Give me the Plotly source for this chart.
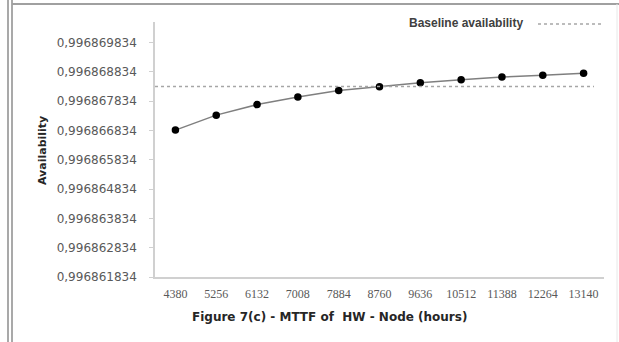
import plotly.graph_objects as go

# ---- data ----
mttf_hours = ["4380", "5256", "6132", "7008", "7884", "8760", "9636", "10512", "11388", "12264", "13140"]
availability = [0.99686685, 0.99686736, 0.99686772, 0.99686798, 0.99686820, 0.99686833,
                0.99686847, 0.99686857, 0.99686866, 0.99686872, 0.99686879]
baseline_availability = 0.99686834
baseline_name = "Baseline availability"
y_tick_values = [0.996861834, 0.996862834, 0.996863834, 0.996864834, 0.996865834,
                 0.996866834, 0.996867834, 0.996868834, 0.996869834]
y_tick_labels = ["0,996861834", "0,996862834", "0,996863834", "0,996864834", "0,996865834",
                 "0,996866834", "0,996867834", "0,996868834", "0,996869834"]
x_title = "Figure 7(c) - MTTF of  HW - Node (hours)"
y_title = "Availability"

W, H = 619, 342
L, R, T, B = 155, 15, 22, 65
PW, PH = W - L - R, H - T - B


def px(x):
    return (x - L) / PW


def py(y):
    return 1 - (y - T) / PH


x_idx = list(range(len(mttf_hours)))

fig = go.Figure()
fig.add_trace(go.Scatter(
    x=x_idx, y=availability, mode="lines+markers",
    line=dict(color="#7f7f7f", width=1.5),
    marker=dict(color="#000000", size=7.5, symbol="circle"),
    showlegend=False, hoverinfo="x+y",
))

shapes = []
# baseline dotted line across plot
shapes.append(dict(type="line", xref="paper", yref="y", x0=0, x1=px(594),
                   y0=baseline_availability, y1=baseline_availability,
                   line=dict(color="#a6a6a6", width=1.5, dash="dot")))
# legend sample
shapes.append(dict(type="line", xref="paper", yref="paper", x0=px(538), x1=px(602),
                   y0=py(24), y1=py(24), line=dict(color="#a6a6a6", width=1.5, dash="dot")))
# outer frame decoration
shapes.append(dict(type="line", xref="paper", yref="paper", x0=px(8), x1=px(8), y0=py(0), y1=py(342),
                   line=dict(color="#8c8c8c", width=1.5)))
shapes.append(dict(type="line", xref="paper", yref="paper", x0=px(12), x1=px(12), y0=py(0), y1=py(342),
                   line=dict(color="#8c8c8c", width=1.5)))
shapes.append(dict(type="line", xref="paper", yref="paper", x0=px(12), x1=px(619), y0=py(4), y1=py(4),
                   line=dict(color="#a0a0a0", width=2)))
shapes.append(dict(type="line", xref="paper", yref="paper", x0=px(617), x1=px(617), y0=py(4), y1=py(342),
                   line=dict(color="#e8e8e8", width=1)))

annotations = [
    dict(text="<b>" + baseline_name + "</b>", xref="paper", yref="paper", x=px(466), y=py(23),
         xanchor="center", yanchor="middle", showarrow=False,
         font=dict(family="Liberation Sans", size=12, color="#404040")),
    dict(text="<b>" + x_title + "</b>", xref="paper", yref="paper", x=px(329), y=py(317),
         xanchor="center", yanchor="middle", showarrow=False,
         font=dict(family="DejaVu Sans", size=12, color="#262626")),
    dict(text="<b>" + y_title + "</b>", xref="paper", yref="paper", x=px(42), y=py(150),
         xanchor="center", yanchor="middle", showarrow=False, textangle=-90,
         font=dict(family="DejaVu Sans", size=11, color="#262626")),
]

fig.update_layout(
    width=W, height=H,
    margin=dict(l=L, r=R, t=T, b=B, pad=0),
    paper_bgcolor="white", plot_bgcolor="white",
    shapes=shapes, annotations=annotations,
    showlegend=False,
    xaxis=dict(
        range=[-0.5, len(mttf_hours) - 0.5],
        tickmode="array", tickvals=x_idx, ticktext=mttf_hours,
        showgrid=False, zeroline=False,
        showline=True, linecolor="#d0d0d0", linewidth=1.5,
        ticks="", ticklabelstandoff=5,
        tickfont=dict(family="Liberation Serif", size=12, color="#595959"),
        fixedrange=True,
    ),
    yaxis=dict(
        range=[0.996861834, 0.99687054],
        tickmode="array", tickvals=y_tick_values, ticktext=y_tick_labels,
        showgrid=False, zeroline=False,
        showline=True, linecolor="#d0d0d0", linewidth=1.5,
        ticks="outside", ticklen=4, tickcolor="#d0d0d0",
        ticklabelstandoff=10,
        tickfont=dict(family="DejaVu Sans", size=12, color="#595959"),
        fixedrange=True,
    ),
)

fig.write_html("out.html", config={"displayModeBar": False})
